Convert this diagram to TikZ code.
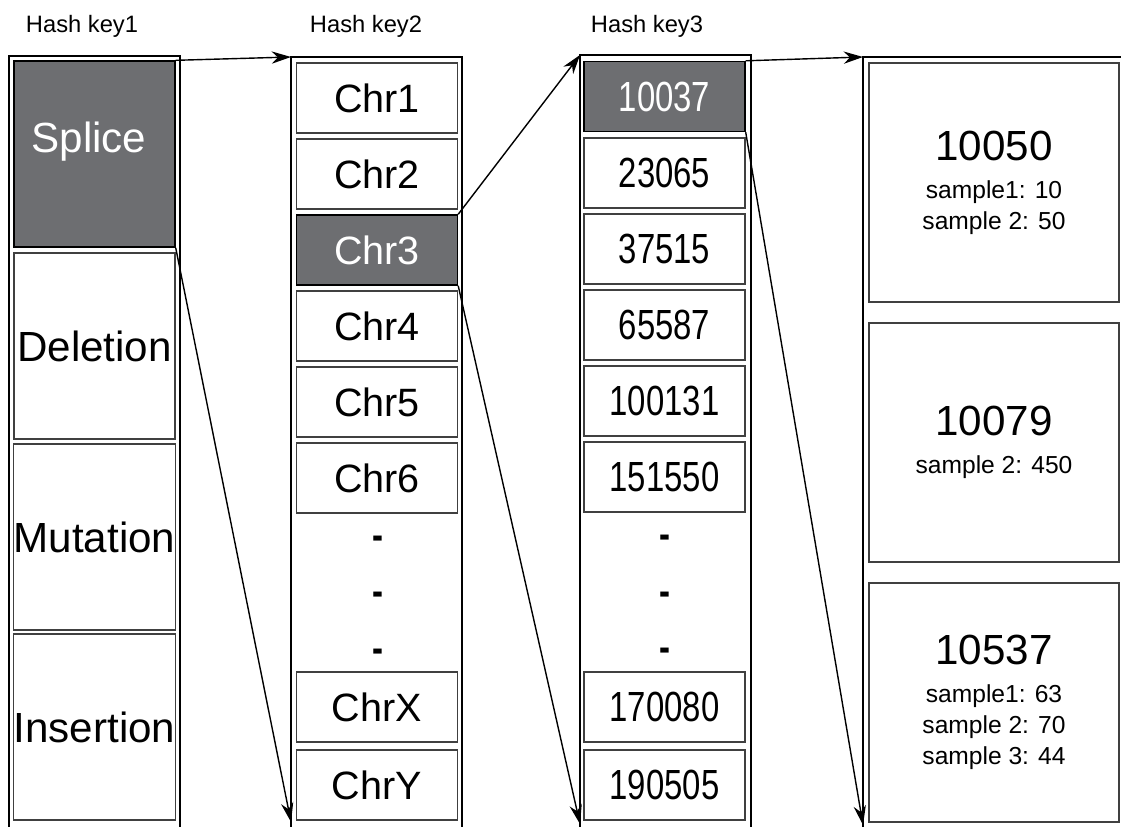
\documentclass[tikz,border=0pt]{standalone}
\usepackage{fontspec}
\setmainfont{Liberation Sans}
\newfontfamily\narrowfont[FakeStretch=0.78]{Liberation Sans}
\usetikzlibrary{arrows.meta}
\definecolor{hitgray}{HTML}{6D6E71}
\newcommand\smp{\fontsize{14}{17.6}\selectfont}

\begin{document}
\begin{tikzpicture}[x=0.02cm,y=-0.02cm,
    frame/.style={line width=1pt},
    cell/.style={draw=black!75, line width=0.8pt, minimum width=3.22cm, minimum height=1.4cm, inner sep=0pt},
    hit/.style={fill=hitgray, draw=black, text=white},
    head/.style={font=\fontsize{13.5}{16}\selectfont},
    big/.style={font=\fontsize{24}{28}\selectfont},
    chr/.style={font=\fontsize{22.5}{26}\selectfont},
    num/.style={font=\narrowfont\fontsize{24}{28}\selectfont},
    gap/.style={font=\narrowfont\bfseries\fontsize{24}{28}\selectfont},
    entry/.style={cell, font=\fontsize{24}{17.6}\selectfont, minimum width=5cm, minimum height=4.78cm, align=center},
    link/.style={-{Stealth[length=11pt,width=7pt]}, line width=0.8pt}]
  \useasboundingbox (0,0) rectangle (1121,827);
  % headers
  \node[head] (key1) at (82,26) {Hash key1};
  \node[head] (key2) at (366,26) {Hash key2};
  \node[head] (key3) at (647,26) {Hash key3};
  % outer frames, open at the bottom
  \draw[frame] (9,827) -- (9,56) -- (180,56) -- (180,827);
  \draw[frame] (291,827) -- (291,57) coordinate (f2tl) -- (462,57) -- (462,827);
  \draw[frame] (580,827) -- (580,55) coordinate (f3tl) -- (751,55) -- (751,827);
  \draw[frame] (1121,57) -- (863,57) coordinate (f4tl) -- (863,827);
  \coordinate (f2bl) at (291,822);
  \coordinate (f3bl) at (580,824);
  \coordinate (f4bl) at (863,825);
  % key1: event type
  \node[cell, hit, minimum height=3.72cm] (splice) at (94.5,154) {};
  \node[big, white] (splicetxt) at (89,142) {Splice};
  \node[cell, big, minimum height=3.72cm] (deletion) at (94.5,346) {Deletion};
  \node[cell, big, minimum height=3.72cm] (mutation) at (94.5,537) {Mutation};
  \node[cell, big, minimum height=3.72cm] (insertion) at (94.5,727) {Insertion};
  % key2: chromosome
  \node[cell, chr, hit] (chr3) at (377,250) {Chr3};
  \foreach \y/\n in {98/1,174/2,326/4,402/5,478/6,707/X,785/Y}
    \node[cell, chr] (chr\n) at (377,\y) {Chr\n};
  \foreach \y in {543,599,656}
    \node[gap] (gapb\y) at (378,\y) {-};
  % key3: position
  \node[cell, num, hit] (p10037) at (664.5,96.5) {10037};
  \foreach \y/\v in {173/23065,249/37515,325/65587,401/100131,477/151550,707/170080,785/190505}
    \node[cell, num] (p\v) at (664.5,\y) {\v};
  \foreach \y in {542,599,655}
    \node[gap] (gapc\y) at (664.5,\y) {-};
  % values
  \node[entry] (e10050) at (994,182.5)
    {10050\\[4pt]\smp sample1: 10\\\smp sample 2: 50};
  \node[entry] (e10079) at (994,442.5)
    {10079\\[4pt]\smp sample 2: 450};
  \node[entry] (e10537) at (994,702.5)
    {10537\\[4pt]\smp sample1: 63\\\smp sample 2: 70\\\smp sample 3: 44};
  % links
  \draw[link] (splice.north east) -- (f2tl);
  \draw[link] (splice.south east) -- (f2bl);
  \draw[link] (chr3.north east) -- (f3tl);
  \draw[link] (chr3.south east) -- (f3bl);
  \draw[link] (p10037.north east) -- (f4tl);
  \draw[link] (p10037.south east) -- (f4bl);
\end{tikzpicture}
\end{document}
